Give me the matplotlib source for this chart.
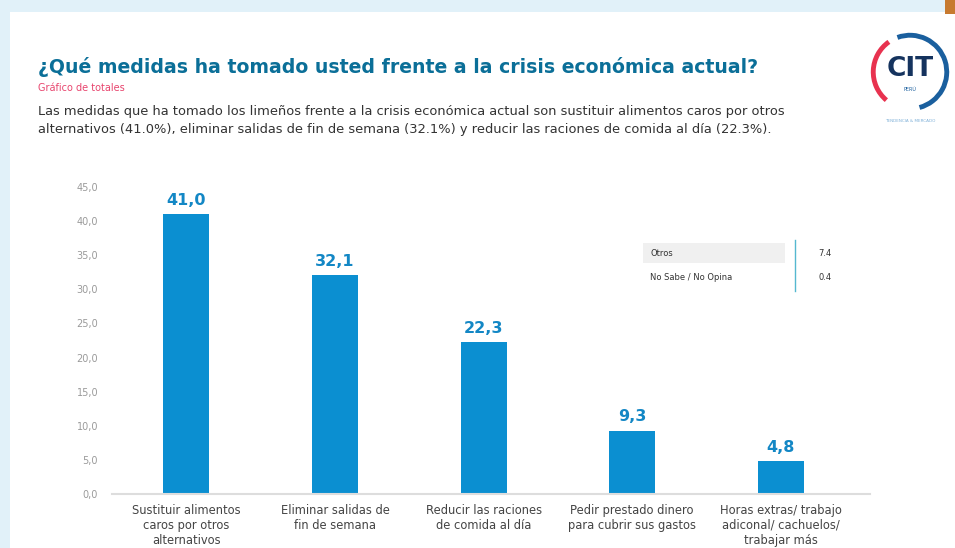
import matplotlib.pyplot as plt
from matplotlib.patches import Rectangle, Arc

categories = ["Sustituir alimentos\ncaros por otros\nalternativos",
              "Eliminar salidas de\nfin de semana",
              "Reducir las raciones\nde comida al día",
              "Pedir prestado dinero\npara cubrir sus gastos",
              "Horas extras/ trabajo\nadiconal/ cachuelos/\ntrabajar más"]
values = [41.0, 32.1, 22.3, 9.3, 4.8]
yticks = [0, 5, 10, 15, 20, 25, 30, 35, 40, 45]
other_labels = ["Otros", "No Sabe / No Opina"]
other_values = [7.4, 0.4]

bar_color = "#0b8fd1"
title_color = "#0b6f98"

fig = plt.figure(figsize=(9.55, 5.48), dpi=100)
fig.patch.set_facecolor("#e1f1f9")
fig.patches.append(Rectangle((10/955, 0), 1, 536/548, transform=fig.transFigure,
                             facecolor="white", edgecolor="none", zorder=-2))
# decoration at the top right
fig.patches.append(Rectangle((945/955, 0.975), 0.02, 0.03, transform=fig.transFigure,
                             facecolor="#c77a30", edgecolor="none", zorder=-1))

ax = fig.add_axes([112/955, 54/548, 758/955, 307/548])
ax.patch.set_alpha(0)
x = range(len(values))
ax.bar(x, values, width=0.31, color=bar_color, zorder=2)
for i, v in enumerate(values):
    ax.text(i, v + 0.9, f"{v:.1f}".replace(".", ","), ha="center", va="bottom",
            color="#1387c5", fontsize=11.5, fontweight="bold")

ax.set_xlim(-0.5, 4.6)
ax.set_ylim(0, 45)
ax.set_yticks(yticks)
ax.set_yticklabels([f"{t:.1f}".replace(".", ",") for t in yticks], color="#9a9a9a", fontsize=7)
ax.set_xticks(list(x))
ax.set_xticklabels(categories, color="#444444", fontsize=8.3, linespacing=1.2)
ax.tick_params(length=0, pad=7)
ax.tick_params(axis="y", pad=10)
for s in ["top", "right", "left"]:
    ax.spines[s].set_visible(False)
ax.spines["bottom"].set_color("#dddddd")
ax.spines["bottom"].set_linewidth(1.5)

# inset table of other answers
fig.patches.append(Rectangle((643/955, 1 - 263/548), 142/955, 20/548, transform=fig.transFigure,
                             facecolor="#f0f0f0", edgecolor="none", zorder=1))
fig.add_artist(plt.Line2D([795/955, 795/955], [1 - 240/548, 1 - 291/548], color="#55b8d0", lw=1))
for i, (lab, val) in enumerate(zip(other_labels, other_values)):
    yy = 1 - (254 + i * 23) / 548
    fig.text(650/955, yy, lab, fontsize=6, color="#333333", va="center")
    fig.text(818/955, yy, f"{val:.1f}", fontsize=6, color="#333333", va="center")

# titles
fig.text(38/955, 1 - 67/548, "¿Qué medidas ha tomado usted frente a la crisis económica actual?",
         fontsize=13.6, fontweight="bold", color=title_color, va="center")
fig.text(38/955, 1 - 88/548, "Gráfico de totales", fontsize=7, color="#e8456e", va="center")
fig.text(38/955, 1 - 111/548,
         "Las medidas que ha tomado los limeños frente a la crisis económica actual son sustituir alimentos caros por otros",
         fontsize=9.35, color="#333333", va="center")
fig.text(38/955, 1 - 130/548,
         "alternativos (41.0%), eliminar salidas de fin de semana (32.1%) y reducir las raciones de comida al día (22.3%).",
         fontsize=9.35, color="#333333", va="center")

# logo
lax = fig.add_axes([868/955, 1 - 114/548, 84/955, 84/548])
lax.set_xlim(-1, 1)
lax.set_ylim(-1, 1)
lax.set_aspect("equal")
lax.axis("off")
lax.add_patch(Arc((0, 0), 1.75, 1.75, theta1=-75, theta2=110, color="#1a5f9e", lw=3.5))
lax.add_patch(Arc((0, 0), 1.75, 1.75, theta1=125, theta2=230, color="#e8324f", lw=3.5))
lax.text(0, 0.08, "CIT", ha="center", va="center", fontsize=19, fontweight="bold", color="#15335e")
lax.text(0, -0.42, "PERÚ", ha="center", va="center", fontsize=3.5, color="#1a5f9e")
fig.text(910/955, 1 - 121/548, "TENDENCIA & MERCADO", ha="center", va="center", fontsize=3, color="#7fb0d8")

fig.savefig("out.png", dpi=100)
